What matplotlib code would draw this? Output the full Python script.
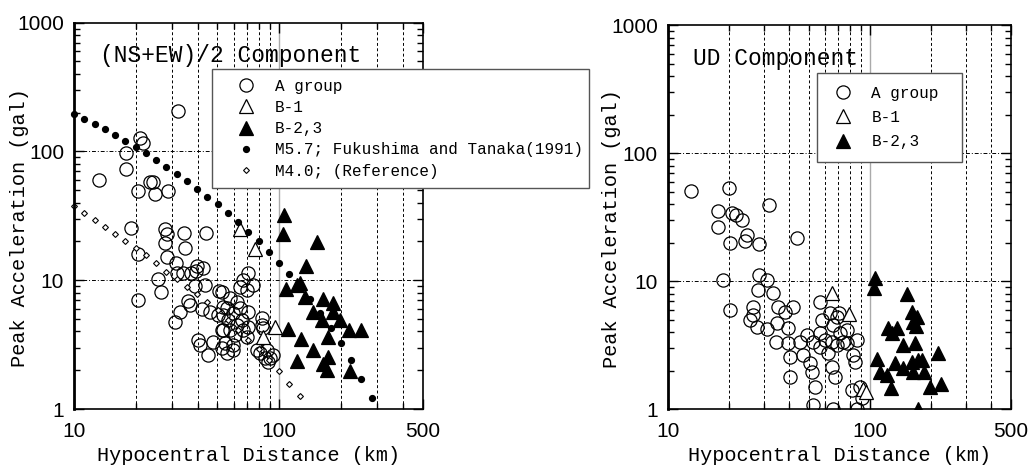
import numpy as np
import matplotlib.pyplot as plt
from matplotlib.ticker import FixedLocator, NullFormatter

MONO = ['Liberation Mono', 'DejaVu Sans Mono']
SANS = ['Liberation Sans', 'DejaVu Sans']

# ---- (NS+EW)/2 component ----
# A group (distance km, acceleration gal)
h_a_dist = [32.2, 21.0, 21.8, 17.9, 17.9, 13.3, 23.5, 24.4, 20.6, 24.8, 28.8, 19.0, 27.8, 28.3,
            34.4, 43.8, 27.8, 34.8, 20.6, 28.3, 31.4, 39.6, 25.8, 31.9, 34.1, 37.0, 39.3, 38.9,
            26.5, 20.6, 51.1, 36.1, 36.8, 41.9, 32.9, 31.1, 46.0, 50.5, 53.4, 52.5, 40.3, 41.1,
            47.7, 45.1, 52.5, 55.5, 70.7, 66.8, 74.8, 64.4, 69.4, 52.5, 57.6, 62.1, 55.5, 64.4,
            70.7, 59.8, 53.4, 56.5, 65.7, 62.1, 70.7, 53.4, 57.6, 66.8, 60.9, 69.4, 54.4, 59.8,
            59.8, 82.2, 82.2, 83.7, 77.7, 80.6, 86.9, 85.3, 90.2, 93.6, 88.5, 42.7, 43.6]
h_a_acc = [207, 128, 116, 98, 72.6, 60, 57.5, 57.5, 49.3, 47, 49.3, 25.6, 24.8, 22.8,
           23.1, 23.4, 19.3, 17.7, 15.97, 15.2, 13.5, 12.9, 10.3, 11.4, 11.3, 11.4, 11.8, 9.02,
           8.14, 7.02, 8.29, 6.93, 6.42, 5.98, 5.69, 4.76, 5.69, 5.37, 6.23, 4.11, 3.43, 3.14,
           3.33, 2.63, 2.96, 2.71, 11.4, 10.0, 9.18, 8.90, 8.39, 8.14, 7.24, 6.81, 6.05, 6.05,
           5.69, 5.53, 5.37, 4.91, 4.91, 4.49, 4.36, 4.11, 4.11, 4.11, 3.75, 3.64, 3.24, 3.14,
           2.87, 5.06, 4.49, 4.23, 2.87, 2.71, 2.87, 2.48, 2.48, 2.63, 2.33, 12.4, 9.18]
# B-1
h_b1_dist = [64.4, 76.2, 95.4, 83.7]
h_b1_acc = [24.8, 17.4, 4.36, 3.64]
# B-2,3
h_b23_dist = [105.9, 104.7, 152, 135, 126.3, 108, 133.6, 164, 183.5, 146.6, 161, 183.5, 198,
              219.6, 250, 110.7, 127.3, 173.5, 146.6, 173.5, 121.7, 164, 170, 221, 122.5]
h_b23_acc = [32.1, 22.7, 19.7, 12.96, 9.56, 8.55, 7.44, 7.11, 6.62, 5.69, 4.91, 5.69, 4.91,
             4.11, 4.11, 4.18, 3.48, 3.60, 2.87, 2.55, 2.37, 2.24, 2.01, 1.98, 9.18]
# M5.7; Fukushima and Tanaka (1991)
ft_dist = [10, 11.2, 12.6, 14.1, 15.8, 17.8, 20, 22.4, 25.1, 28.2, 31.6, 35.5, 39.8, 44.7, 50.1,
           56.2, 63.1, 70.8, 79.4, 89.1, 100, 112, 126, 141, 158, 178, 200, 224, 251, 282]
ft_acc = [195, 178.5, 164, 149, 135, 121, 108, 97.7, 85.8, 76.1, 67.1, 58.9, 51.1, 44.5, 38.9,
          33.3, 28.2, 23.8, 20.0, 16.6, 13.6, 11.1, 8.97, 7.11, 5.53, 4.23, 3.24, 2.40, 1.72, 1.21]
# M4.0 reference
ref_dist = ft_dist[:23]
ref_acc = [37.7, 33.2, 29.3, 25.9, 22.8, 20.3, 17.7, 15.7, 13.6, 11.6, 10.2, 8.90, 7.81, 6.77,
           5.87, 4.91, 4.11, 3.46, 2.91, 2.40, 1.96, 1.57, 1.27]

# ---- UD component ----
v_a_dist = [13.0, 20.2, 31.8, 17.7, 20.7, 21.9, 23.2, 17.7, 24.6, 20.3, 24.1, 28.4, 43.5, 18.7,
            28.4, 30.9, 28.1, 33.1, 20.3, 26.5, 35.3, 38.1, 41.8, 26.5, 25.5, 27.8, 30.9, 34.8,
            39.5, 34.5, 39.5, 45.2, 40.3, 46.9, 50.6, 51.6, 40.3, 53.6, 52.5, 66.0, 86.1, 48.7,
            52.5, 56.7, 56.7, 60.0, 62.3, 64.8, 64.8, 67.3, 68.6, 71.2, 73.9, 76.9, 56.7, 57.8,
            63.5, 66.0, 68.6, 76.9, 82.9, 84.4, 86.1, 81.4, 91.2, 89.4, 70.5]
v_a_acc = [51.1, 53.9, 39.5, 35.6, 34.0, 33.0, 30.1, 26.7, 23.0, 20.0, 20.6, 19.4, 21.9, 10.3,
           11.2, 10.2, 8.53, 8.13, 5.95, 6.32, 6.32, 5.77, 6.32, 5.44, 4.97, 4.41, 4.20, 4.68,
           4.28, 3.36, 3.27, 3.36, 2.57, 2.65, 2.28, 1.96, 1.77, 1.49, 1.07, 1.0, 1.0, 3.79,
           3.36, 3.91, 3.07, 3.47, 2.73, 3.36, 2.14, 1.79, 3.17, 3.91, 3.36, 3.27, 6.91, 4.97,
           5.61, 4.54, 5.28, 4.15, 2.65, 2.34, 3.47, 1.41, 1.21, 1.49, 5.61]
v_b1_dist = [64.8, 78.5, 92.2, 96.0]
v_b1_acc = [8.13, 5.5, 1.43, 1.35]
v_b23_dist = [106.1, 104.9, 152, 161, 163, 169, 123.5, 136, 128.3, 145.5, 167, 108, 133, 146.5,
              161, 174, 181, 164, 185, 218, 112, 122, 127.3, 199, 224, 174, 171]
v_b23_acc = [10.5, 8.80, 7.94, 5.77, 4.82, 4.46, 4.28, 4.28, 3.91, 3.17, 3.27, 2.45, 2.30, 2.08,
             2.34, 2.42, 2.42, 1.96, 1.96, 2.76, 1.96, 1.85, 1.45, 1.48, 1.57, 1.0, 5.28]

x_ticks = [10, 100, 500]
y_ticks = [1, 10, 100, 1000]


def setup_axes(ax, title, ylab_x):
    ax.set_xscale('log')
    ax.set_yscale('log')
    ax.set_xlim(10, 500)
    ax.set_ylim(1, 1000)
    # grid lines
    for x in [20, 30, 40, 50, 60, 70, 80, 90, 200, 300, 400]:
        ax.axvline(x, color='k', lw=0.7, ls=(0, (3, 2.5)), zorder=0)
    ax.axvline(100, color='#aaaaaa', lw=1.0, zorder=0)
    for y in [10, 100]:
        ax.axhline(y, color='k', lw=0.7, ls=(0, (4, 2, 1, 2)), zorder=0)
    ax.xaxis.set_major_locator(FixedLocator(x_ticks))
    ax.xaxis.set_minor_locator(FixedLocator([20, 30, 40, 50, 60, 70, 80, 90, 200, 300, 400]))
    ax.yaxis.set_major_locator(FixedLocator(y_ticks))
    ax.yaxis.set_minor_locator(FixedLocator([m * 10 ** e for e in range(3) for m in range(2, 10)]))
    ax.xaxis.set_minor_formatter(NullFormatter())
    ax.yaxis.set_minor_formatter(NullFormatter())
    ax.set_xticklabels([str(t) for t in x_ticks], fontfamily=SANS, fontsize=15)
    ax.set_yticklabels([str(t) for t in y_ticks], fontfamily=SANS, fontsize=15)
    ax.tick_params(which='both', direction='in', top=True, right=True, width=1)
    ax.tick_params(which='major', length=7)
    ax.tick_params(axis='x', which='major', pad=9)
    ax.tick_params(axis='y', which='major', pad=7)
    ax.tick_params(which='minor', length=4)
    ax.spines['left'].set_linewidth(2)
    for s in ['top', 'right', 'bottom']:
        ax.spines[s].set_linewidth(1.2)
    ax.set_xlabel('Hypocentral Distance (km)', fontfamily=MONO, fontsize=14.6, labelpad=4)
    ax.set_ylabel('Peak Acceleration (gal)', fontfamily=MONO, fontsize=14.6)
    ax.yaxis.set_label_coords(ylab_x, 0.47)
    ax.text(0.075, 0.915, title, transform=ax.transAxes, fontfamily=MONO, fontsize=16.5,
            ha='left', va='center')


fig = plt.figure(figsize=(10.36, 4.66), dpi=100)
ax1 = fig.add_axes([0.0714, 0.1223, 0.3366, 0.829])
ax2 = fig.add_axes([0.6445, 0.1223, 0.3314, 0.8230])

circ = dict(ls='none', marker='o', ms=9.5, mfc='none', mec='k', mew=0.9)
tri_o = dict(ls='none', marker='^', ms=9.5, mfc='white', mec='k', mew=0.9)
tri_f = dict(ls='none', marker='^', ms=9.5, mfc='k', mec='k', mew=0.9)

setup_axes(ax1, '(NS+EW)/2 Component', -0.129)
ax1.plot(h_a_dist, h_a_acc, label='A group', **circ)
ax1.plot(h_b1_dist, h_b1_acc, label='B-1', **tri_o)
ax1.plot(h_b23_dist, h_b23_acc, label='B-2,3', **tri_f)
ax1.plot(ft_dist, ft_acc, ls='none', marker='o', ms=4.2, color='k',
         label='M5.7; Fukushima and Tanaka(1991)', clip_on=False)
ax1.plot(ref_dist, ref_acc, ls='none', marker='D', ms=3, mfc='white', mec='k', mew=0.8,
         label='M4.0; (Reference)', clip_on=False)
leg1 = ax1.legend(loc='upper left', bbox_to_anchor=(0.396, 0.88, 1.081, 0.0), mode='expand',
                  prop={'family': MONO, 'size': 11.5}, fancybox=False, framealpha=1,
                  edgecolor='#555555', labelspacing=0.39, handletextpad=0.25,
                  borderpad=0.6, handlelength=3.1, borderaxespad=0)
leg1.get_frame().set_linewidth(1.0)
leg1.set_zorder(5)

setup_axes(ax2, 'UD Component', -0.136)
ax2.plot(v_a_dist, v_a_acc, label='A group', **circ)
ax2.plot(v_b1_dist, v_b1_acc, label='B-1', **tri_o)
ax2.plot(v_b23_dist, v_b23_acc, label='B-2,3', **tri_f)
leg2 = ax2.legend(loc='upper left', bbox_to_anchor=(0.435, 0.876, 0.422, 0.0), mode='expand',
                  prop={'family': MONO, 'size': 11.5}, fancybox=False, framealpha=1,
                  edgecolor='#555555', labelspacing=0.575, handletextpad=1.0,
                  borderpad=0.8, handlelength=1.6, borderaxespad=0)
leg2.get_frame().set_linewidth(1.0)

fig.savefig('out.png', dpi=100)
